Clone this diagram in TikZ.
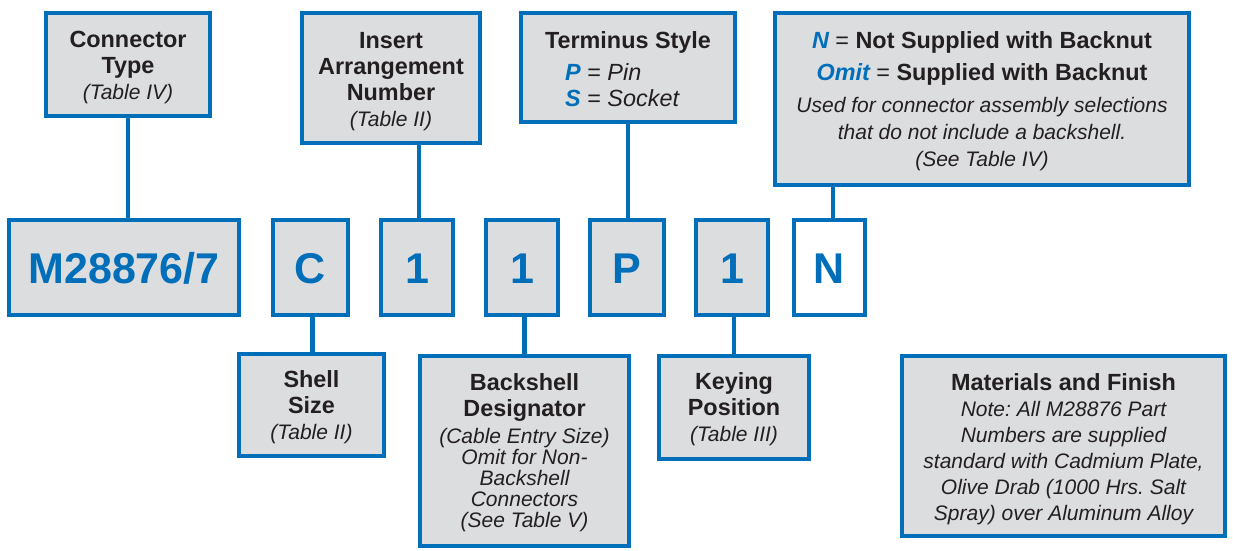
\documentclass[tikz,border=0pt]{standalone}
\usepackage{fontspec}
\setmainfont{Liberation Sans}
\frenchspacing
\definecolor{pblue}{RGB}{0,110,185}
\definecolor{pgray}{RGB}{220,221,223}
\definecolor{ptext}{RGB}{35,31,32}
\newcommand\boldline[1]{{\fontsize{23.4}{26}\selectfont\bfseries\upshape #1}}
\begin{document}
\begin{tikzpicture}[x=1pt,y=-1pt,
  box/.style={draw=pblue, line width=3.8pt, fill=pgray, inner sep=0pt, rectangle},
  code/.style={box, text=pblue, font=\fontsize{43}{43}\selectfont\bfseries, text height=31pt, text depth=0pt, minimum height=95pt},
  txt/.style={text=ptext, align=center, inner sep=0pt, anchor=base, font=\fontsize{21}{26}\selectfont\itshape\frenchspacing},
  link/.style={draw=pblue, line width=4.5pt}
]
\useasboundingbox[fill=white] (0,0) rectangle (1233,550);
% top boxes
\node[box, minimum width=164pt, minimum height=103pt] (ct) at (128,64.5) {};
\node[box, minimum width=178pt, minimum height=130pt] (ia) at (391,78) {};
\node[box, minimum width=214pt, minimum height=109pt] (ts) at (628,67.5) {};
\node[box, minimum width=414pt, minimum height=172pt] (nb) at (982,99) {};
% code row
\node[code, minimum width=230pt] (m) at (124,267.5) {M28876/7};
\node[code, minimum width=75pt] (c) at (310.5,267.5) {C};
\node[code, minimum width=72pt] (d1) at (417,267.5) {1};
\node[code, minimum width=72pt] (d2) at (522,267.5) {1};
\node[code, minimum width=74pt] (p) at (627,267.5) {P};
\node[code, minimum width=72pt] (d3) at (732,267.5) {1};
\node[code, minimum width=71pt, fill=white] (n) at (829.5,267.5) {N};
% bottom boxes
\node[box, minimum width=145pt, minimum height=102pt] (ss) at (311.5,405) {};
\node[box, minimum width=209pt, minimum height=190pt] (bd) at (524.5,451) {};
\node[box, minimum width=150pt, minimum height=103pt] (kp) at (734,407.5) {};
\node[box, minimum width=323pt, minimum height=180pt] (mf) at (1063.5,446) {};
% connectors
\draw[link] (ct.south) -- (ct.south |- m.north);
\draw[link] ([xshift=2pt]d1.north) -- ([xshift=2pt]d1.north |- ia.south);
\draw[link] ([xshift=1pt]p.north) -- ([xshift=1pt]p.north |- ts.south);
\draw[link] ([xshift=3.5pt]n.north) -- ([xshift=3.5pt]n.north |- nb.south);
\draw[link] ([xshift=2pt]c.south) -- ([xshift=2pt]c.south |- ss.north);
\draw[link] ([xshift=2.5pt]d2.south) -- ([xshift=2.5pt]d2.south |- bd.north);
\draw[link] ([xshift=2pt]d3.south) -- ([xshift=2pt]d3.south |- kp.north);
% texts (anchor = baseline of the last line)
\node[txt] (ct-t) at (128,99) {\boldline{Connector}\\\boldline{Type}\\(Table IV)};
\node[txt] (ia-t) at (391,126) {\boldline{Insert}\\\boldline{Arrangement}\\\boldline{Number}\\(Table II)};
\node[txt] (ts-t) at (628,48) {\boldline{Terminus Style}};
\node[txt, anchor=base west, align=left, font=\fontsize{23.4}{26}\selectfont] (ts-k) at (565,106)
  {{\color{pblue}\bfseries\itshape P} = {\itshape Pin}\\{\color{pblue}\bfseries\itshape S} = {\itshape Socket}};
\node[txt, font=\fontsize{21}{27}\selectfont\itshape] (nb-t) at (982,166)
  {{\fontsize{23.4}{27}\selectfont{\color{pblue}\bfseries N} {\upshape =} {\upshape\bfseries Not Supplied with Backnut}}\\[5pt]
   {\fontsize{23.4}{27}\selectfont{\color{pblue}\bfseries Omit} {\upshape =} {\upshape\bfseries Supplied with Backnut}}\\[5pt]
   Used for connector assembly selections\\that do not include a backshell.\\(See Table IV)};
\node[txt] (ss-t) at (311.5,439.3) {\boldline{Shell}\\\boldline{Size}\\(Table II)};
\node[txt, font=\fontsize{21}{21}\selectfont\itshape] (bd-t) at (524.5,527.3)
  {\boldline{Backshell}\\[5pt]\boldline{Designator}\\[6pt](Cable Entry Size)\\Omit for Non-\\Backshell\\Connectors\\(See Table V)};
\node[txt] (kp-t) at (734,441.7) {\boldline{Keying}\\\boldline{Position}\\(Table III)};
\node[txt] (mf-t) at (1063.5,520) {\boldline{Materials and Finish}\\Note: All M28876 Part\\Numbers are supplied\\standard with Cadmium Plate,\\Olive Drab (1000 Hrs. Salt\\Spray) over Aluminum Alloy};
\end{tikzpicture}
\end{document}
